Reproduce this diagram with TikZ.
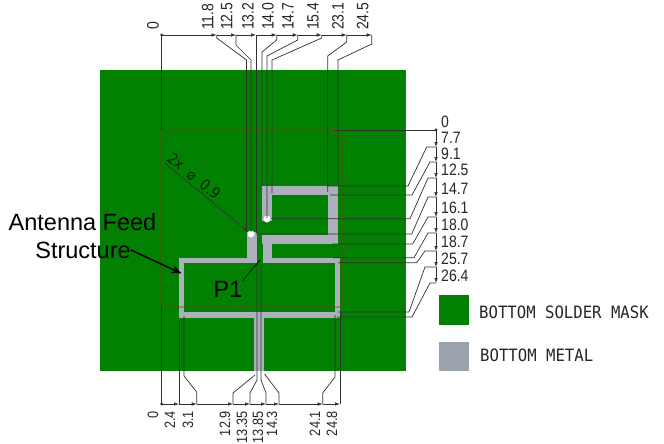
\documentclass[tikz,border=0pt]{standalone}
\usepackage{fontspec}
\setmainfont{Liberation Sans}
\newfontfamily\dimfont[FakeStretch=0.85]{Liberation Sans}
\newfontfamily\cadfont[FakeStretch=0.92]{DejaVu Sans Mono}
\newfontfamily\symfont[FakeStretch=0.9]{DejaVu Sans}
\usepackage{tikz}
\usetikzlibrary{arrows.meta}
\usetikzlibrary{positioning}
\definecolor{maskgreen}{RGB}{2,128,2}
\definecolor{metalgray}{RGB}{172,176,188}
\definecolor{legendgray}{RGB}{154,162,174}
\definecolor{outlinered}{RGB}{125,62,16}
\definecolor{dimgray}{RGB}{45,50,45}
\tikzset{
	dimline/.style={draw=dimgray,line width=0.7pt},
	dimarrow/.style={dimline,-{Latex[length=5pt,width=3.6pt]}},
	dimdot/.style={fill=dimgray},
	metal/.style={fill=metalgray},
	toplabel/.style={rotate=90,anchor=west,inner sep=0pt,font=\dimfont\fontsize{16.5}{16.5}\selectfont,text=black!85},
	botlabel/.style={rotate=90,anchor=east,inner sep=0pt,font=\dimfont\fontsize{15}{15}\selectfont,text=black!85},
	sidelabel/.style={anchor=west,inner sep=0pt,font=\dimfont\fontsize{16.5}{16.5}\selectfont,text=black!85},
	legendlabel/.style={anchor=west,inner sep=0pt,font=\cadfont\fontsize{17}{17}\selectfont,text=black!85},
	biglabel/.style={inner sep=0pt,font=\fontsize{23.5}{23.5}\selectfont}
}
\begin{document}
\begin{tikzpicture}[x=1pt,y=-1pt]
	\useasboundingbox (0,0) rectangle (664,444);
	% board
	\fill[maskgreen] (100,70) rectangle (406,371);

	% metal
	\fill[metal] (179,258) rectangle (256.7,263); \fill[metal] (262.7,258) rectangle (340,263);
	\fill[metal] (179,312) rectangle (340,318);
	\fill[metal] (179,258) rectangle (184,318); \fill[metal] (335,258) rectangle (340,318);
	\fill[metal] (247,232) rectangle (256.7,263); \fill[metal] (262.7,235) rectangle (272,263);
	\fill[metal] (262,186) rectangle (338,195); \fill[metal] (328,186) rectangle (338,244);
	\fill[metal] (262,235) rectangle (338,244); \fill[metal] (262,186) rectangle (272,221);
	\fill[metal] (254,318) rectangle (264,371);
	\fill[white] (251,234) circle (3.5); \fill[white] (267,219) circle (3.5);

	% outline
	\draw[outlinered,line width=0.9pt] (161,130) -- (332,130) -- (342,141) -- (342,307) -- (161,307) -- cycle;

	% top dimensions
	\draw[dimarrow] (161.7,35) -- (216.7,35); \draw[dimarrow] (216.7,35) -- (236,35);
	\draw[dimarrow] (236,35) -- (256,35); \draw[dimarrow] (256,35) -- (276.7,35);
	\draw[dimarrow] (276.7,35) -- (297.7,35); \draw[dimarrow] (297.7,35) -- (321.7,35);
	\draw[dimarrow] (321.7,35) -- (346.7,35); \draw[dimarrow] (346.7,35) -- (371.7,35);
	\fill[dimdot] (161.7,35) circle (1.6);
	\draw[dimline] (161.7,35) -- (161.7,130);
	\draw[dimline] (216.7,35) -- (216.7,38) -- (246.5,60) -- (246.5,232);
	\draw[dimline] (236,35) -- (236,45) -- (251,60) -- (251,232);
	\draw[dimline] (256.5,35) -- (256.5,233);
	\draw[dimline] (276.7,35) -- (276.7,40) -- (262,52) -- (262,186);
	\draw[dimline] (297.7,35) -- (297.7,40) -- (267,56) -- (267,218);
	\draw[dimline] (321.7,35) -- (321.7,38) -- (272,60) -- (272,193);
	\draw[dimline] (346.7,35) -- (346.7,42) -- (327.7,56) -- (327.7,192);
	\draw[dimline] (371.7,35) -- (371.7,44) -- (338,60) -- (338,186);

	\node[toplabel] (top0) at (153,30) {0};
	\node[toplabel] (top118) at (207.7,30) {11.8};
	\node[toplabel] (top125) at (226.7,30) {12.5};
	\node[toplabel] (top132) at (248,30) {13.2};
	\node[toplabel] (top140) at (268,30) {14.0};
	\node[toplabel] (top147) at (288,30) {14.7};
	\node[toplabel] (top154) at (313,30) {15.4};
	\node[toplabel] (top231) at (338,30) {23.1};
	\node[toplabel] (top245) at (362.7,30) {24.5};

	% right dimensions
	\draw[dimarrow] (436,130) -- (436,147); \draw[dimarrow] (436,147) -- (436,162);
	\draw[dimarrow] (436,162) -- (436,178); \draw[dimarrow] (436,178) -- (436,197);
	\draw[dimarrow] (436,197) -- (436,217); \draw[dimarrow] (436,217) -- (436,233);
	\draw[dimarrow] (436,233) -- (436,251); \draw[dimarrow] (436,251) -- (436,267);
	\draw[dimarrow] (436,267) -- (436,283);
	\fill[dimdot] (436,130) circle (1.6);
	\draw[dimline] (334,130) -- (436,130);
	\draw[dimline] (327,186) -- (408,186) -- (426.7,147) -- (436,147);
	\draw[dimline] (330,195) -- (412,195) -- (430,162) -- (436,162);
	\draw[dimline] (271,218.7) -- (410,218.7) -- (428,178) -- (436,178);
	\draw[dimline] (256,234) -- (411.7,234) -- (428,197) -- (436,197);
	\draw[dimline] (332,244) -- (412.7,244) -- (428,217) -- (436,217);
	\draw[dimline] (333,257.7) -- (414,257.7) -- (428,233) -- (436,233);
	\draw[dimline] (338,262.7) -- (416.7,262.7) -- (425,251) -- (436,251);
	\draw[dimline] (338,312) -- (409,312) -- (425,267) -- (436,267);
	\draw[dimline] (337,317) -- (412,317) -- (430,283) -- (436,283);

	\node[sidelabel] (side0) at (441,122) {0};
	\node[sidelabel] (side77) at (441,138) {7.7};
	\node[sidelabel] (side91) at (441,154) {9.1};
	\node[sidelabel] (side125) at (441,170) {12.5};
	\node[sidelabel] (side147) at (441,189) {14.7};
	\node[sidelabel] (side161) at (441,208) {16.1};
	\node[sidelabel] (side180) at (441,225) {18.0};
	\node[sidelabel] (side187) at (441,242) {18.7};
	\node[sidelabel] (side257) at (441,259) {25.7};
	\node[sidelabel] (side264) at (441,276) {26.4};

	% bottom dimensions
	\draw[dimarrow] (161.7,404) -- (179,404); \draw[dimarrow] (179,404) -- (196.7,404);
	\draw[dimarrow] (196.7,404) -- (233,404); \draw[dimarrow] (233,404) -- (250,404);
	\draw[dimarrow] (250,404) -- (266,404); \draw[dimarrow] (266,404) -- (279,404);
	\draw[dimarrow] (279,404) -- (322.7,404); \draw[dimarrow] (322.7,404) -- (340,404);
	\fill[dimdot] (161.7,404) circle (1.6);
	\draw[dimline] (161.7,404) -- (161.7,307);
	\draw[dimline] (179,404) -- (179,320);
	\draw[dimline] (196.7,404) -- (196.7,392) -- (184,376) -- (184,316);
	\draw[dimline] (233,404) -- (233,393) -- (255,375);
	\draw[dimline] (250,404) -- (250,393) -- (257,380) -- (257,264);
	\draw[dimline] (266,404) -- (266,393) -- (261,380) -- (261,264);
	\draw[dimline] (279,404) -- (279,393) -- (264.5,374);
	\draw[dimline] (322.7,404) -- (322.7,393) -- (335,377) -- (335,315);
	\draw[dimline] (340,404) -- (340,313);

	\node[botlabel] (bot0) at (153,411) {0};
	\node[botlabel] (bot24) at (170,411) {2.4};
	\node[botlabel] (bot31) at (188,411) {3.1};
	\node[botlabel] (bot129) at (225,411) {12.9};
	\node[botlabel] (bot1335) at (242,411) {13.35};
	\node[botlabel] (bot1385) at (258,411) {13.85};
	\node[botlabel] (bot143) at (272,411) {14.3};
	\node[botlabel] (bot241) at (315,411) {24.1};
	\node[botlabel] (bot248) at (332,411) {24.8};

	% via callout
	\coordinate (viastart) at (165,163);
	\coordinate (viatip) at (248,231.7);
	\draw[dimarrow,black!80] (viastart) -- (viatip);
	\node[rotate=-39.6,inner sep=0pt,text=black!70!maskgreen,font=\symfont\fontsize{15}{15}\selectfont] (vialabel) at (194,176) {2x\ \ ⌀\ \ 0.9};

	% labels
	\node[biglabel] (antenna) at (82.5,222) {Antenna Feed};
	\node[biglabel] (structure) at (83,250) {Structure};
	\coordinate (feedtip) at (181.5,273.5);
	\draw[black,line width=1.5pt,-{Stealth[length=10pt,width=8pt]}] (structure.east) -- (feedtip);
	\node[biglabel] (ponelabel) at (228,289) {P1};
	\coordinate (ponetip) at (260,260);
	\draw[black,line width=0.6pt] (ponelabel.north east) -- (ponetip);

	% legend
	\fill[maskgreen] (439.3,295) rectangle (469.3,325);
	\fill[legendgray] (439.3,341.7) rectangle (469.3,370.7);
	\node[legendlabel] (masklabel) at (479,312) {BOTTOM SOLDER MASK};
	\node[legendlabel] (metallabel) at (480,355) {BOTTOM METAL};
\end{tikzpicture}
\end{document}
